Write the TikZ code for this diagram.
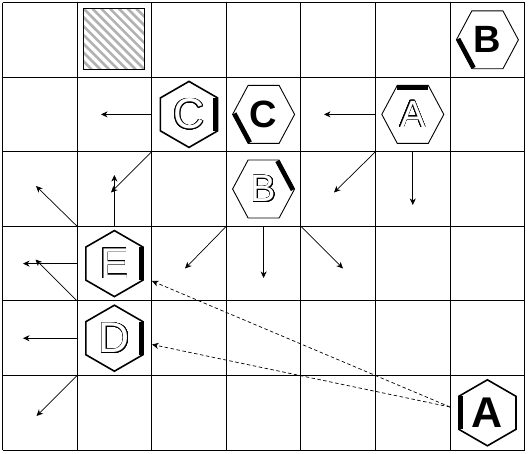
\documentclass[tikz,border=0pt]{standalone}
\usepackage{fontspec}
\setmainfont{Liberation Sans}
\usepackage{contour}
\contourlength{0.55pt}
\contournumber{24}
\usetikzlibrary{arrows.meta}
\tikzset{
  gridline/.style={line width=0.9pt, black},
  pointyline/.style={line width=1.6pt, black, line join=miter},
  flatline/.style={line width=0.9pt, black, line join=miter},
  barline/.style={line width=8.5pt, black},
  arr/.style={line width=0.7pt, -{Stealth[length=6.5pt,width=6pt,inset=2pt]}},
  darr/.style={arr, dash pattern=on 3.5pt off 2.5pt},
  bigletter/.style={inner sep=0pt, font=\fontsize{43}{45}\selectfont},
  smallletter/.style={inner sep=0pt, font=\fontsize{38}{40}\selectfont},
}
\newcommand\outl[1]{\contour{black}{\textcolor{white}{#1}}}
% pointy-top hexagon: #1 name, #2 x, #3 y, #4 bar start angle, #5 letter
\newcommand\pointyhex[5]{%
  \begin{scope}[shift={(#2,#3)}]
    \begin{scope}
      \clip (30:33)--(90:33)--(150:33)--(210:33)--(270:33)--(330:33)--cycle;
      \draw[barline] (#4:33) -- (#4+60:33);
    \end{scope}
    \draw[pointyline] (30:33)--(90:33)--(150:33)--(210:33)--(270:33)--(330:33)--cycle;
    \node[bigletter] (#1) at (0,0) {#5};
  \end{scope}}
% flat-top hexagon
\newcommand\flathex[5]{%
  \begin{scope}[shift={(#2,#3)}]
    \begin{scope}[yscale=1.08]
      \begin{scope}
        \clip (0:31)--(60:31)--(120:31)--(180:31)--(240:31)--(300:31)--cycle;
        \draw[barline] (#4:31) -- (#4+60:31);
      \end{scope}
      \draw[flatline] (0:31)--(60:31)--(120:31)--(180:31)--(240:31)--(300:31)--cycle;
    \end{scope}
    \node[smallletter] (#1) at (0,0) {#5};
  \end{scope}}
\begin{document}
\begin{tikzpicture}[x=1pt, y=-1pt]
\useasboundingbox (0,0) rectangle (528,453);
% grid
\foreach \i in {0,...,7} \draw[gridline] (2.5+74.6*\i,2.5) -- (2.5+74.6*\i,450.1);
\foreach \j in {0,...,6} \draw[gridline] (2.5,2.5+74.6*\j) -- (524.7,2.5+74.6*\j);
% hatched square
\begin{scope}
  \clip (83.6,8.6) rectangle (144.6,69.6);
  \foreach \k in {-8,...,8} \draw[gray!60, line width=2.6pt] (83.6+\k*8.8,8.6) -- (144.6+\k*8.8,69.6);
\end{scope}
\node[draw, line width=1.4pt, minimum size=61pt, inner sep=0pt] (sq) at (114.1,39.1) {};
% hexagons
\flathex{hB1}{487.4}{39.8}{120}{\textbf{B}}
\pointyhex{hC1}{189.0}{114.4}{-30}{\outl{C}}
\flathex{hC2}{263.6}{114.4}{120}{\textbf{C}}
\flathex{hA1}{412.8}{114.4}{240}{\outl{A}}
\flathex{hB2}{263.6}{189.0}{300}{\outl{B}}
\pointyhex{hE}{114.4}{263.6}{-30}{\outl{E}}
\pointyhex{hD}{114.4}{338.2}{-30}{\outl{D}}
\pointyhex{hA2}{487.4}{412.8}{150}{\textbf{A}}
% arrow coordinates
\coordinate (s1) at (151.7,114.4);  \coordinate (e1) at (101,114.4);
\coordinate (s2) at (375.5,114.4);  \coordinate (e2) at (324,114.4);
\coordinate (s3) at (375.5,151.7);  \coordinate (e3) at (334,192.5);
\coordinate (s4) at (412.8,151.7);  \coordinate (e4) at (412.8,205);
\coordinate (s5) at (151.7,151.7);  \coordinate (e5) at (111,192.5);
\coordinate (s6) at (114.4,226.3);  \coordinate (e6) at (114.4,175);
\coordinate (s7) at (77.1,226.3);   \coordinate (e7) at (36,186);
\coordinate (s8) at (77.1,263.6);   \coordinate (e8) at (23,263.6);
\coordinate (s9) at (77.1,300.9);   \coordinate (e9) at (35.5,259.5);
\coordinate (s10) at (77.1,338.2);  \coordinate (e10) at (23,338.2);
\coordinate (s11) at (77.1,375.5);  \coordinate (e11) at (36.5,416);
\coordinate (s12) at (226.3,226.3); \coordinate (e12) at (185,268.5);
\coordinate (s13) at (263.6,226.3); \coordinate (e13) at (263.6,278);
\coordinate (s14) at (300.9,226.3); \coordinate (e14) at (343,268.5);
\coordinate (ds) at (450,407);
\coordinate (de1) at (152,281);
\coordinate (de2) at (152,344.5);
\foreach \n in {1,...,14} \draw[arr] (s\n) -- (e\n);
\draw[darr] (ds) -- (de1);
\draw[darr] (ds) -- (de2);
\end{tikzpicture}
\end{document}
